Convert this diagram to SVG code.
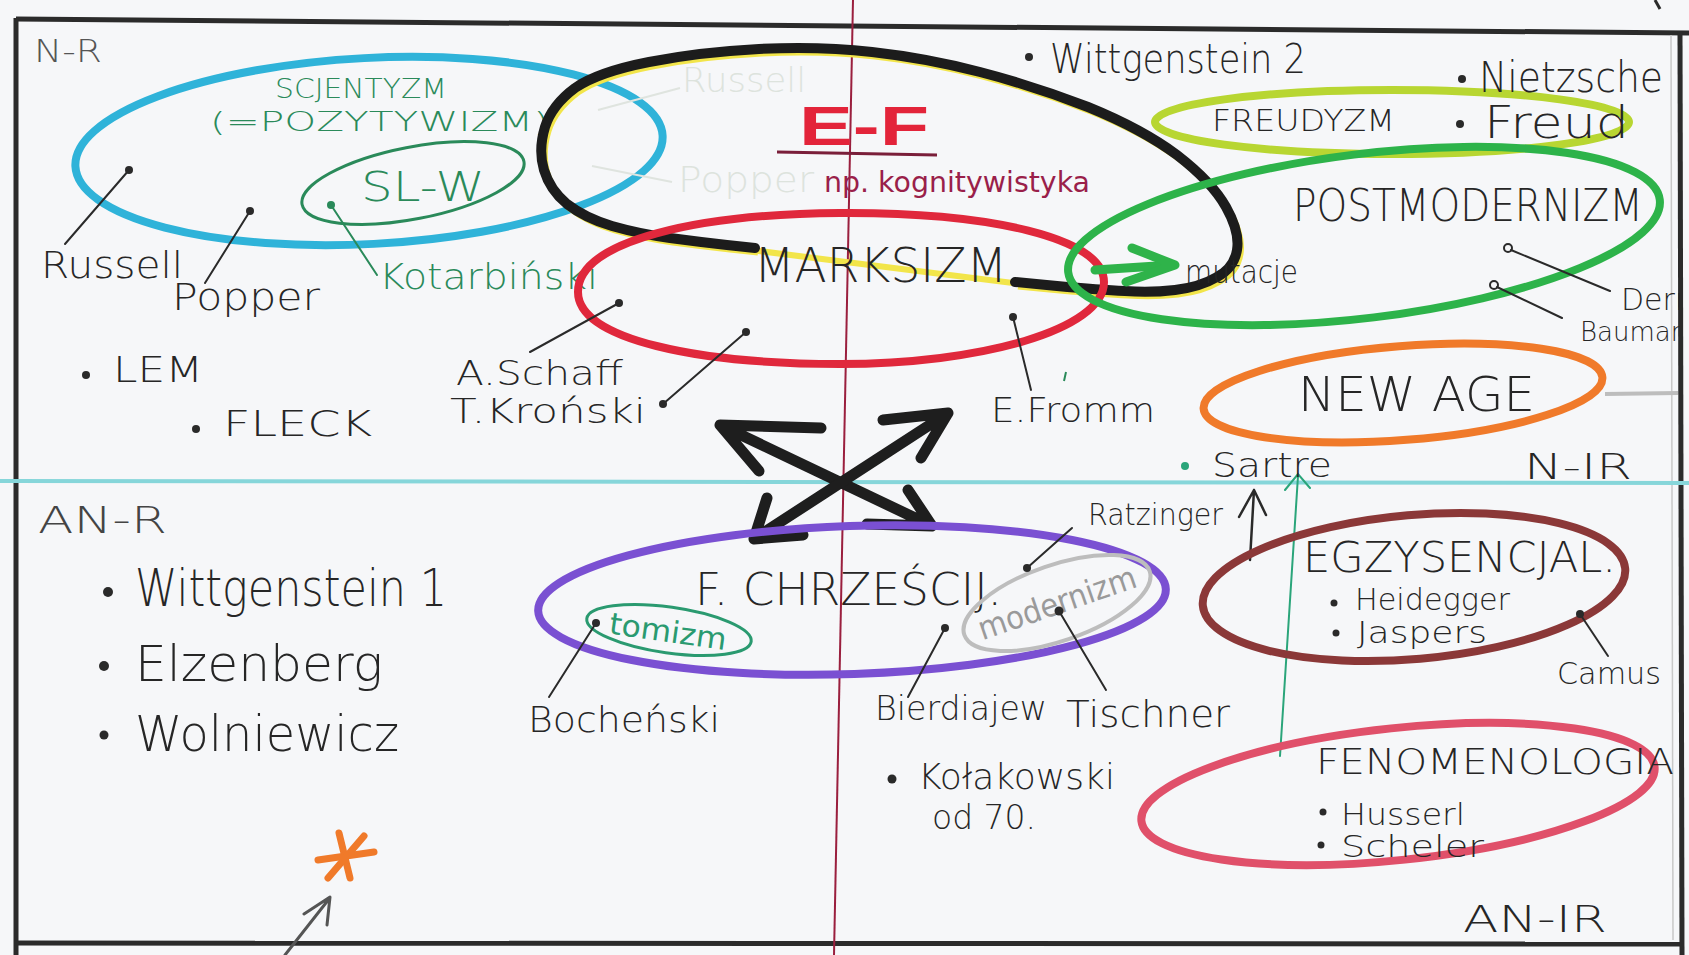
<svg xmlns="http://www.w3.org/2000/svg" width="1689" height="955" viewBox="0 0 1689 955">
<defs>
<style>
.t{font-family:"DejaVu Sans","Liberation Sans",sans-serif;font-weight:200;fill:#262626}
.b{font-family:"Liberation Sans","DejaVu Sans",sans-serif;font-weight:bold}
.el{fill:none;stroke-width:8}
.ln{fill:none;stroke:#2a2a2a;stroke-width:2;stroke-linecap:round}
.dot{fill:#2a2a2a}
.frame{stroke:#2b2b2b;stroke-width:5;fill:none}
.arr{fill:none;stroke:#1e1e1e;stroke-width:11;stroke-linecap:round;stroke-linejoin:round}
</style>
<clipPath id="pg"><rect x="0" y="0" width="1680" height="955"/></clipPath>
</defs>
<rect width="1689" height="955" fill="#f6f7f9"/>

<g id="frame">
<line class="frame" x1="16" y1="19" x2="1689" y2="33"/>
<line class="frame" x1="16" y1="18" x2="16" y2="955"/>
<line class="frame" x1="14" y1="943" x2="1682" y2="944"/>
<line class="frame" x1="1680" y1="31" x2="1682" y2="955"/>
<line x1="1671" y1="35" x2="1673" y2="940" stroke="#c8c8c8" stroke-width="1.5"/>
<line x1="1655" y1="0" x2="1660" y2="9" stroke="#2b2b2b" stroke-width="3"/>
<line x1="853" y1="0" x2="834" y2="955" stroke="#9a1f3e" stroke-width="2"/>
<line x1="0" y1="481" x2="1689" y2="483" stroke="#86d6da" stroke-width="4"/>
<line x1="1605" y1="394" x2="1678" y2="393" stroke="#bdbdbd" stroke-width="4"/>
</g>

<g id="quadrant-labels">
<text class="t" x="34" y="62" font-size="32" textLength="68" lengthAdjust="spacingAndGlyphs" style="fill:#555">N-R</text>
<text class="t" x="38" y="533" font-size="38" textLength="129" lengthAdjust="spacingAndGlyphs" style="fill:#444">AN-R</text>
<text class="t" x="1524" y="479" font-size="36" textLength="108" lengthAdjust="spacingAndGlyphs">N-IR</text>
<text class="t" x="1463" y="932" font-size="38" textLength="144" lengthAdjust="spacingAndGlyphs">AN-IR</text>
</g>

<g id="scjentyzm">
<ellipse class="el" cx="369" cy="151" rx="294" ry="93" stroke="#2fb3d9" transform="rotate(-3 369 151)"/>
<text class="t" x="275" y="98" font-size="26" textLength="172" lengthAdjust="spacingAndGlyphs" style="fill:#2a8a5a">SCJENTYZM</text>
<text class="t" x="210" y="131" font-size="26" textLength="339" lengthAdjust="spacingAndGlyphs" style="fill:#2a8a5a">(=POZYTYWIZM)</text>
</g>

<g id="slw">
<ellipse cx="413" cy="183" rx="113" ry="36" fill="none" stroke="#2a8a5a" stroke-width="3" transform="rotate(-11 413 183)"/>
<text class="t" x="361" y="201" font-size="40" textLength="124" lengthAdjust="spacingAndGlyphs" style="fill:#2a8a5a">SL-W</text>
</g>

<g id="russell">
<circle class="dot" cx="129" cy="170" r="4"/>
<line class="ln" x1="129" y1="170" x2="65" y2="244"/>
<text class="t" x="41" y="278" font-size="38" textLength="142" lengthAdjust="spacingAndGlyphs">Russell</text>
</g>
<g id="popper">
<circle class="dot" cx="250" cy="211" r="4"/>
<line class="ln" x1="250" y1="211" x2="205" y2="283"/>
<text class="t" x="172" y="310" font-size="38" textLength="148" lengthAdjust="spacingAndGlyphs">Popper</text>
</g>
<g id="kotarbinski">
<circle cx="331" cy="205" r="4" fill="#2a8a5a"/>
<line class="ln" x1="331" y1="205" x2="377" y2="275" style="stroke:#2a8a5a"/>
<text class="t" x="379" y="289" font-size="36" textLength="219" lengthAdjust="spacingAndGlyphs" style="fill:#2a8a5a">Kotarbiński</text>
</g>
<g id="lem">
<circle class="dot" cx="86" cy="375" r="4"/>
<text class="t" x="113" y="382" font-size="36" textLength="90" lengthAdjust="spacingAndGlyphs">LEM</text>
</g>
<g id="fleck">
<circle class="dot" cx="196" cy="429" r="4"/>
<text class="t" x="223" y="436" font-size="36" textLength="149" lengthAdjust="spacingAndGlyphs">FLECK</text>
</g>

<g id="ef">
<path d="M743,249 L1013,283" fill="none" stroke="#f2e54a" stroke-width="6"/>
<path d="M755,250 L727,247 Q700,244 670,240 Q640,236 612,228 Q585,220 567,206 Q550,192 544,172 Q538,152 545,129 Q552,107 575,90 Q598,74 649,64 Q700,54 759,51 Q819,48 872,54 Q926,60 980,74 Q1034,88 1088,109 Q1142,131 1177,157 Q1212,184 1226,209 Q1240,234 1237,252 Q1234,270 1217,279 Q1200,289 1175,292 Q1150,295 1125,293 Q1100,292 1057,288 L1015,284" fill="none" stroke="#f2e54a" stroke-width="7" transform="translate(3,2)"/>
<path d="M755,248 L727,245 Q700,242 670,238 Q640,234 612,226 Q585,218 567,204 Q550,190 544,170 Q538,150 545,127 Q552,105 575,88 Q598,72 649,62 Q700,52 759,49 Q819,46 872,52 Q926,58 980,72 Q1034,86 1088,107 Q1142,129 1177,155 Q1212,182 1226,207 Q1240,232 1237,250 Q1234,268 1217,277 Q1200,287 1175,290 Q1150,293 1125,291 Q1100,290 1057,286 L1015,282" fill="none" stroke="#1c1c1c" stroke-width="10" stroke-linecap="round" stroke-linejoin="round"/>
<line x1="598" y1="110" x2="680" y2="88" stroke="#dfe4df" stroke-width="2"/>
<line x1="592" y1="166" x2="672" y2="182" stroke="#dfe4df" stroke-width="2"/>
<text class="t" x="682" y="92" font-size="34" textLength="124" lengthAdjust="spacingAndGlyphs" style="fill:#dde3dd">Russell</text>
<text class="t" x="678" y="192" font-size="36" textLength="136" lengthAdjust="spacingAndGlyphs" style="fill:#dde3dd">Popper</text>
<text class="b" x="799" y="145" font-size="56" textLength="130" lengthAdjust="spacingAndGlyphs" style="fill:#e3243a">E-F</text>
<line x1="777" y1="152" x2="937" y2="155" stroke="#7a1f3a" stroke-width="3"/>
<text class="t" x="824" y="192" font-size="28" textLength="266" lengthAdjust="spacingAndGlyphs" style="fill:#9a1f4a;font-weight:normal">np. kognitywistyka</text>
</g>

<g id="marksizm">
<path d="M578,292 C578,240 700,214 840,213 C990,212 1104,238 1104,282 C1104,330 980,364 840,364 C700,364 578,340 578,292 Z" fill="none" stroke="#e0283c" stroke-width="8"/>
<text class="t" x="754" y="282" font-size="48" textLength="253" lengthAdjust="spacingAndGlyphs">MARKSIZM</text>
</g>
<g id="schaff">
<circle class="dot" cx="619" cy="303" r="4"/>
<line class="ln" x1="619" y1="303" x2="530" y2="352"/>
<text class="t" x="456" y="385" font-size="34" textLength="167" lengthAdjust="spacingAndGlyphs">A.Schaff</text>
</g>
<g id="kronski">
<circle class="dot" cx="746" cy="332" r="4"/>
<circle class="dot" cx="663" cy="404" r="4"/>
<line class="ln" x1="746" y1="332" x2="663" y2="404"/>
<text class="t" x="450" y="423" font-size="34" textLength="196" lengthAdjust="spacingAndGlyphs">T.Kroński</text>
</g>
<g id="fromm">
<circle class="dot" cx="1013" cy="317" r="4"/>
<line class="ln" x1="1013" y1="317" x2="1031" y2="390"/>
<line x1="1064" y1="381" x2="1066" y2="372" stroke="#2a8a5a" stroke-width="2"/>
<text class="t" x="991" y="422" font-size="34" textLength="164" lengthAdjust="spacingAndGlyphs">E.Fromm</text>
</g>

<g id="wittgenstein2">
<circle class="dot" cx="1029" cy="57" r="4"/>
<text class="t" x="1050" y="73" font-size="40" textLength="256" lengthAdjust="spacingAndGlyphs">Wittgenstein 2</text>
</g>

<g id="freudyzm">
<ellipse class="el" cx="1392" cy="122" rx="237" ry="32" stroke="#b8d632"/>
<text class="t" x="1212" y="131" font-size="30" textLength="183" lengthAdjust="spacingAndGlyphs">FREUDYZM</text>
<circle class="dot" cx="1462" cy="79" r="4"/>
<text class="t" x="1479" y="92" font-size="42" textLength="184" lengthAdjust="spacingAndGlyphs">Nietzsche</text>
<circle class="dot" cx="1460" cy="124" r="4"/>
<text class="t" x="1484" y="138" font-size="44" textLength="145" lengthAdjust="spacingAndGlyphs">Freud</text>
</g>

<g id="postmodernizm">
<ellipse class="el" cx="1364" cy="236" rx="298" ry="82" stroke="#2db34a" transform="rotate(-7 1364 236)"/>
<text class="t" x="1293" y="221" font-size="44" textLength="350" lengthAdjust="spacingAndGlyphs">POSTMODERNIZM</text>
</g>
<g id="derrida">
<circle cx="1508" cy="248" r="4" fill="none" stroke="#2a2a2a" stroke-width="2"/>
<line class="ln" x1="1511" y1="250" x2="1610" y2="291"/>
<text class="t" x="1621" y="310" font-size="30" clip-path="url(#pg)">Derrida</text>
</g>
<g id="bauman">
<circle cx="1494" cy="285" r="4" fill="none" stroke="#2a2a2a" stroke-width="2"/>
<line class="ln" x1="1497" y1="287" x2="1562" y2="318"/>
<text class="t" x="1580" y="341" font-size="26" clip-path="url(#pg)">Bauman</text>
</g>

<g id="connectors">
<path d="M1095,270 L1172,265" fill="none" stroke="#2fb34a" stroke-width="9" stroke-linecap="round"/>
<path d="M1132,248 L1175,265 L1126,282" fill="none" stroke="#2fb34a" stroke-width="9" stroke-linecap="round" stroke-linejoin="round"/>
<path class="arr" d="M720,425 L932,526 M821,428 L720,425 L759,471 M908,490 L932,526 L867,524"/>
<path class="arr" d="M754,539 L948,413 M767,498 L754,539 L803,535 M883,420 L948,413 L921,458"/>
<path d="M1250,560 L1254,490 M1239,517 L1254,490 L1266,515" fill="none" stroke="#2a2a2a" stroke-width="2.5" stroke-linecap="round" stroke-linejoin="round"/>
<path d="M1280,756 L1298,476 M1285,490 L1298,474 L1310,488" fill="none" stroke="#2aa57a" stroke-width="2" stroke-linecap="round"/>
<path d="M285,955 L329,899 M304,914 L330,897 L327,925" fill="none" stroke="#555" stroke-width="3" stroke-linecap="round" stroke-linejoin="round"/>
</g>
<text class="t" x="1185" y="283" font-size="32" textLength="113" lengthAdjust="spacingAndGlyphs">mutacje</text>

<g id="newage">
<ellipse class="el" cx="1403" cy="393" rx="200" ry="47" stroke="#f07a2a" transform="rotate(-4.5 1403 393)"/>
<text class="t" x="1298" y="411" font-size="48" textLength="237" lengthAdjust="spacingAndGlyphs">NEW AGE</text>
</g>
<g id="sartre">
<circle cx="1185" cy="466" r="4" fill="#2aa57a"/>
<text class="t" x="1212" y="477" font-size="34" textLength="120" lengthAdjust="spacingAndGlyphs">Sartre</text>
</g>

<g id="egzystencjal">
<ellipse class="el" cx="1414" cy="587" rx="212" ry="72" stroke="#8b3838" transform="rotate(-5 1414 587)"/>
<text class="t" x="1303" y="572" font-size="42" textLength="313" lengthAdjust="spacingAndGlyphs">EGZYSENCJAL.</text>
<circle class="dot" cx="1334" cy="603" r="3.5"/>
<text class="t" x="1355" y="610" font-size="30" textLength="155" lengthAdjust="spacingAndGlyphs">Heidegger</text>
<circle class="dot" cx="1336" cy="633" r="3.5"/>
<text class="t" x="1357" y="643" font-size="30" textLength="130" lengthAdjust="spacingAndGlyphs">Jaspers</text>
</g>
<g id="camus">
<circle class="dot" cx="1580" cy="614" r="4"/>
<line class="ln" x1="1580" y1="614" x2="1608" y2="656"/>
<text class="t" x="1557" y="684" font-size="30" textLength="104" lengthAdjust="spacingAndGlyphs">Camus</text>
</g>

<g id="fenomenologia">
<ellipse class="el" cx="1398" cy="794" rx="258" ry="66" stroke="#e0506a" transform="rotate(-6 1398 794)"/>
<text class="t" x="1316" y="774" font-size="36" textLength="358" lengthAdjust="spacingAndGlyphs">FENOMENOLOGIA</text>
<circle class="dot" cx="1323" cy="812" r="3.5"/>
<text class="t" x="1341" y="825" font-size="30" textLength="124" lengthAdjust="spacingAndGlyphs">Husserl</text>
<circle class="dot" cx="1321" cy="845" r="3.5"/>
<text class="t" x="1341" y="857" font-size="30" textLength="143" lengthAdjust="spacingAndGlyphs">Scheler</text>
</g>

<g id="chrzescij">
<ellipse class="el" cx="852" cy="600" rx="314" ry="74" stroke="#7a50d2" transform="rotate(-2 852 600)"/>
<text class="t" x="695" y="605" font-size="44" textLength="307" lengthAdjust="spacingAndGlyphs">F. CHRZEŚCIJ.</text>
</g>
<g id="tomizm">
<ellipse cx="669" cy="630" rx="83" ry="23" fill="none" stroke="#2a9a70" stroke-width="3" transform="rotate(8 669 630)"/>
<text class="t" x="609" y="642" font-size="30" textLength="118" lengthAdjust="spacingAndGlyphs" transform="rotate(8 669 632)" style="fill:#2a9a70;font-weight:normal">tomizm</text>
</g>
<g id="modernizm">
<ellipse cx="1057" cy="603" rx="98" ry="38" fill="none" stroke="#bdbdbd" stroke-width="4" transform="rotate(-19 1057 603)"/>
<text class="t" x="1057" y="614" font-size="32" text-anchor="middle" textLength="165" lengthAdjust="spacingAndGlyphs" transform="rotate(-19 1057 603)" style="fill:#9a9a9a;font-weight:normal">modernizm</text>
</g>
<g id="ratzinger">
<circle class="dot" cx="1027" cy="568" r="4"/>
<line class="ln" x1="1027" y1="568" x2="1072" y2="528"/>
<text class="t" x="1088" y="525" font-size="30" textLength="135" lengthAdjust="spacingAndGlyphs">Ratzinger</text>
</g>
<g id="bochenski">
<circle class="dot" cx="596" cy="623" r="4"/>
<line class="ln" x1="596" y1="623" x2="549" y2="697"/>
<text class="t" x="528" y="732" font-size="36" textLength="192" lengthAdjust="spacingAndGlyphs">Bocheński</text>
</g>
<g id="bierdiajew">
<circle class="dot" cx="945" cy="628" r="4"/>
<line class="ln" x1="945" y1="628" x2="908" y2="697"/>
<text class="t" x="875" y="720" font-size="34" textLength="172" lengthAdjust="spacingAndGlyphs">Bierdiajew</text>
</g>
<g id="tischner">
<circle class="dot" cx="1059" cy="611" r="4.5"/>
<line class="ln" x1="1059" y1="611" x2="1106" y2="690"/>
<text class="t" x="1066" y="727" font-size="38" textLength="164" lengthAdjust="spacingAndGlyphs">Tischner</text>
</g>
<g id="kolakowski">
<circle class="dot" cx="892" cy="779" r="4.5"/>
<text class="t" x="918" y="789" font-size="36" textLength="197" lengthAdjust="spacingAndGlyphs">Kołakowski</text>
<text class="t" x="932" y="829" font-size="34" textLength="104" lengthAdjust="spacingAndGlyphs">od 70.</text>
</g>

<g id="an-r-list">
<circle class="dot" cx="108" cy="592" r="5"/>
<text class="t" x="135" y="606" font-size="52" textLength="312" lengthAdjust="spacingAndGlyphs">Wittgenstein 1</text>
<circle class="dot" cx="104" cy="666" r="5"/>
<text class="t" x="135" y="681" font-size="50" textLength="248" lengthAdjust="spacingAndGlyphs">Elzenberg</text>
<circle class="dot" cx="104" cy="735" r="4.5"/>
<text class="t" x="135" y="751" font-size="50" textLength="264" lengthAdjust="spacingAndGlyphs">Wolniewicz</text>
</g>

<g id="asterisk" stroke="#f07a2a" stroke-width="7" stroke-linecap="round">
<line x1="339" y1="833" x2="350" y2="878"/>
<line x1="318" y1="860" x2="374" y2="852"/>
<line x1="328" y1="878" x2="364" y2="836"/>
</g>
</svg>
